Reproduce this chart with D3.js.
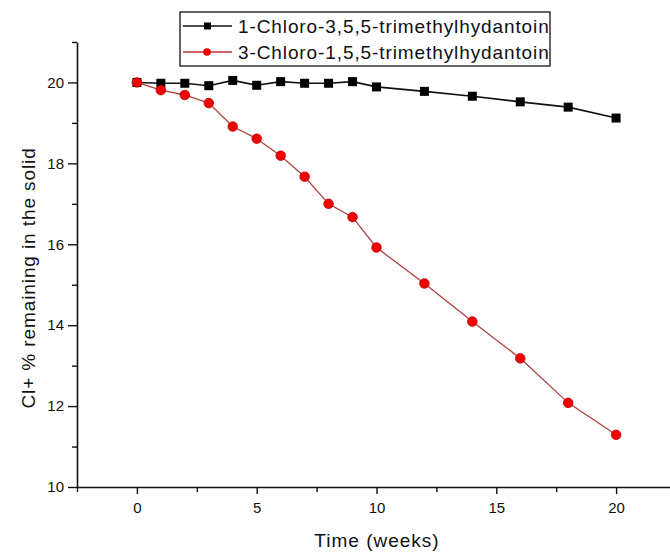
<!DOCTYPE html>
<html>
<head>
<meta charset="utf-8">
<script src="https://cdn.jsdelivr.net/npm/d3@7"></script>
<style>
  html, body { margin: 0; padding: 0; background: #fff; }
  svg { display: block; font-family: Arial, "Liberation Sans", sans-serif; }
</style>
</head>
<body>
<div id="chart"></div>
<script>
'use strict';

// weeks sampled
var weeks = [0, 1, 2, 3, 4, 5, 6, 7, 8, 9, 10, 12, 14, 16, 18, 20];
// Cl+ % remaining
var chloro3 = [20.0, 19.98, 19.98, 19.92, 20.05, 19.93, 20.02, 19.98, 19.98, 20.02, 19.89, 19.78, 19.66, 19.52, 19.39, 19.12];
var chloro1 = [20.0, 19.81, 19.69, 19.49, 18.91, 18.61, 18.19, 17.67, 17.0, 16.67, 15.92, 15.03, 14.09, 13.18, 12.08, 11.29];
var seriesNames = ['1-Chloro-3,5,5-trimethylhydantoin', '3-Chloro-1,5,5-trimethylhydantoin'];

var xMajor = [0, 5, 10, 15, 20];
var xMinor = [-2.5, 2.5, 7.5, 12.5, 17.5];
var yMajor = [10, 12, 14, 16, 18, 20];
var yMinor = [11, 13, 15, 17, 19, 21];

var W = 670, H = 555;
var svg = d3.select('#chart').append('svg')
    .attr('width', W)
    .attr('height', H);

var x = d3.scaleLinear().domain([-2.5, 22.5]).range([77, 676]);
var y = d3.scaleLinear().domain([10, 21]).range([487, 42]);

// axes
var xAxisG = svg.append('g').attr('transform', 'translate(0,487)');
xAxisG.call(d3.axisBottom(x).tickValues(xMajor).tickSize(7).tickSizeOuter(0).tickPadding(8));
xAxisG.append('g').call(d3.axisBottom(x).tickValues(xMinor).tickSize(5).tickFormat(''))
    .select('.domain').remove();

var yAxisG = svg.append('g').attr('transform', 'translate(77,0)');
yAxisG.call(d3.axisLeft(y).tickValues(yMajor).tickSize(9).tickSizeOuter(0).tickPadding(4));
yAxisG.append('g').call(d3.axisLeft(y).tickValues(yMinor).tickSize(5).tickFormat(''))
    .select('.domain').remove();

svg.selectAll('.domain').attr('stroke', '#111').attr('stroke-width', 1.6);
svg.selectAll('.tick line').attr('stroke', '#111').attr('stroke-width', 1.4);
svg.selectAll('.tick text')
    .attr('fill', '#111')
    .style('font-size', '15px')
    .style('font-family', 'Arial, "Liberation Sans", sans-serif');

// axis titles
svg.append('text')
    .attr('x', 377)
    .attr('y', 547)
    .attr('text-anchor', 'middle')
    .attr('fill', '#111')
    .style('font-size', '19px')
    .style('letter-spacing', '1px')
    .text('Time (weeks)');

svg.append('text')
    .attr('transform', 'translate(35,278) rotate(-90)')
    .attr('text-anchor', 'middle')
    .attr('fill', '#111')
    .style('font-size', '19px')
    .style('letter-spacing', '0.9px')
    .text('Cl+ % remaining in the solid');

// lines
var line = d3.line()
    .x(function(d) { return x(d[0]); })
    .y(function(d) { return y(d[1]); });

var blackData = weeks.map(function(w, i) { return [w, chloro3[i]]; });
var redData = weeks.map(function(w, i) { return [w, chloro1[i]]; });

svg.append('path')
    .datum(redData)
    .attr('d', line)
    .attr('fill', 'none')
    .attr('stroke', '#b04040')
    .attr('stroke-width', 1.3);

svg.append('path')
    .datum(blackData)
    .attr('d', line)
    .attr('fill', 'none')
    .attr('stroke', '#111')
    .attr('stroke-width', 1.6);

svg.selectAll('rect.pt')
    .data(blackData)
    .enter()
    .append('rect')
    .attr('class', 'pt')
    .attr('x', function(d) { return x(d[0]) - 4.5; })
    .attr('y', function(d) { return y(d[1]) - 4.5; })
    .attr('width', 9)
    .attr('height', 9)
    .attr('fill', '#000');

svg.selectAll('circle.pt')
    .data(redData)
    .enter()
    .append('circle')
    .attr('class', 'pt')
    .attr('cx', function(d) { return x(d[0]); })
    .attr('cy', function(d) { return y(d[1]); })
    .attr('r', 4.8)
    .attr('fill', '#f00000')
    .attr('stroke', '#c00000')
    .attr('stroke-width', 0.8);

// legend
var legend = svg.append('g').attr('transform', 'translate(180,12)');
legend.append('rect')
    .attr('width', 370)
    .attr('height', 54)
    .attr('fill', '#fff')
    .attr('stroke', '#111')
    .attr('stroke-width', 1.3);

var rowY = [14, 40];
var rowColor = ['#111', '#c03030'];
seriesNames.forEach(function(name, i) {
    var g = legend.append('g').attr('transform', 'translate(0,' + rowY[i] + ')');
    g.append('line')
        .attr('x1', 3).attr('x2', 52)
        .attr('y1', 0).attr('y2', 0)
        .attr('stroke', rowColor[i])
        .attr('stroke-width', 1.3);
    if (i === 0) {
        g.append('rect')
            .attr('x', 24).attr('y', -3.5)
            .attr('width', 7).attr('height', 7)
            .attr('fill', '#000');
    } else {
        g.append('circle')
            .attr('cx', 27).attr('cy', 0).attr('r', 3.8)
            .attr('fill', '#f00000');
    }
    g.append('text')
        .attr('x', 58)
        .attr('y', 7)
        .attr('fill', '#111')
        .style('font-size', '19px')
        .style('letter-spacing', '0.9px')
        .text(name);
});
</script>
</body>
</html>
